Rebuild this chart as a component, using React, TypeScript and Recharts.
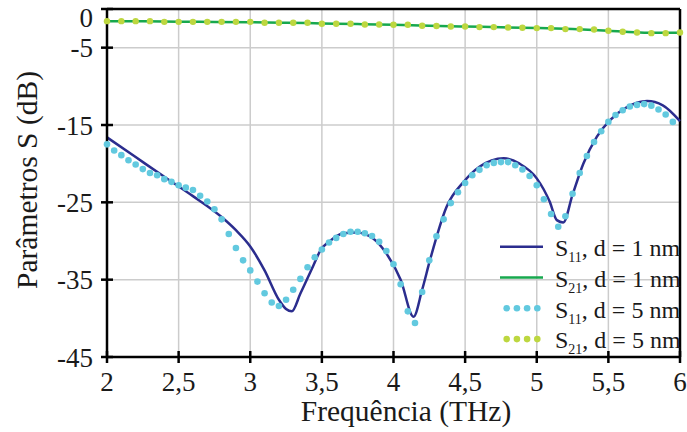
import { LineChart, Line, XAxis, YAxis, CartesianGrid, ReferenceLine } from "recharts";

// frequency ticks (THz) and dB ticks
const freqTicks = [2, 2.5, 3, 3.5, 4, 4.5, 5, 5.5, 6];
const dbTicks = [-45, -35, -25, -15, -5, 0];

// S11, d = 1 nm (solid navy)
const s11d1Freq = [2.0, 2.2, 2.4, 2.6, 2.8, 2.9, 3.0, 3.1, 3.2, 3.25, 3.29, 3.35, 3.44, 3.49, 3.55, 3.65, 3.74, 3.86, 3.95, 4.05, 4.14, 4.2, 4.255, 4.37, 4.49, 4.6, 4.77, 4.88, 5.0, 5.09, 5.14, 5.185, 5.25, 5.325, 5.42, 5.51, 5.63, 5.77, 5.88, 6.0];
const s11d1 = [-16.6, -19.15, -21.7, -24.2, -26.9, -28.6, -30.7, -33.8, -37.6, -38.8, -39.1, -36.8, -33.2, -31.2, -30.1, -29.0, -28.9, -29.7, -31.6, -35.0, -39.8, -36.3, -32.45, -25.6, -22.35, -20.4, -19.3, -20.0, -21.9, -24.9, -27.3, -27.6, -24.0, -20.0, -16.5, -14.4, -12.7, -11.9, -12.45, -14.5];

// S21, d = 1 nm (solid green)
const s21d1Freq = [2.0, 2.25, 2.5, 2.75, 3.0, 3.25, 3.5, 3.75, 4.0, 4.25, 4.5, 4.75, 5.0, 5.25, 5.5, 5.75, 6.0];
const s21d1 = [-1.57, -1.58, -1.64, -1.67, -1.7, -1.78, -1.86, -1.95, -2.04, -2.18, -2.27, -2.36, -2.46, -2.6, -2.8, -3.06, -3.07];

// S11, d = 5 nm (cyan dots)
const s11d5Freq = [2.0, 2.05, 2.1, 2.15, 2.2, 2.25, 2.3, 2.35, 2.4, 2.45, 2.5, 2.55, 2.6, 2.65, 2.7, 2.75, 2.8, 2.85, 2.9, 2.95, 3.0, 3.05, 3.1, 3.15, 3.2, 3.25, 3.3, 3.35, 3.4, 3.45, 3.5, 3.55, 3.6, 3.65, 3.7, 3.75, 3.8, 3.85, 3.9, 3.95, 4.0, 4.05, 4.1, 4.15, 4.2, 4.25, 4.3, 4.35, 4.4, 4.45, 4.5, 4.55, 4.6, 4.65, 4.7, 4.75, 4.8, 4.85, 4.9, 4.95, 5.0, 5.05, 5.1, 5.15, 5.2, 5.25, 5.3, 5.35, 5.4, 5.45, 5.5, 5.55, 5.6, 5.65, 5.7, 5.75, 5.8, 5.85, 5.9, 5.95];
const s11d5 = [-17.5, -18.3, -18.9, -19.55, -20.1, -20.7, -21.2, -21.5, -22.0, -22.35, -22.8, -23.1, -23.4, -24.15, -24.9, -25.9, -27.2, -29.1, -30.9, -32.5, -33.8, -35.25, -36.75, -37.95, -38.4, -37.6, -36.3, -34.9, -33.4, -32.1, -31.1, -30.2, -29.6, -29.1, -28.8, -28.8, -29.0, -29.35, -30.1, -31.3, -33.0, -35.6, -39.1, -40.6, -36.6, -32.5, -29.4, -27.2, -25.1, -23.7, -22.5, -21.5, -20.8, -20.2, -19.9, -19.8, -19.8, -20.2, -20.75, -21.6, -22.8, -24.6, -26.5, -28.15, -26.8, -23.9, -21.2, -19.0, -17.2, -15.8, -14.6, -13.7, -13.1, -12.6, -12.4, -12.3, -12.5, -13.0, -13.65, -14.6];

// S21, d = 5 nm (lime dots)
const s21d5Freq = [2.0, 2.1, 2.2, 2.3, 2.4, 2.5, 2.6, 2.7, 2.8, 2.9, 3.0, 3.1, 3.2, 3.3, 3.4, 3.5, 3.6, 3.7, 3.8, 3.9, 4.0, 4.1, 4.2, 4.3, 4.4, 4.5, 4.6, 4.7, 4.8, 4.9, 5.0, 5.1, 5.2, 5.3, 5.4, 5.5, 5.6, 5.7, 5.8, 5.9, 6.0];
const s21d5 = [-1.57, -1.57, -1.57, -1.57, -1.66, -1.66, -1.66, -1.66, -1.66, -1.66, -1.66, -1.78, -1.78, -1.78, -1.78, -1.91, -1.91, -1.91, -2.0, -2.0, -2.04, -2.04, -2.17, -2.2, -2.26, -2.26, -2.34, -2.34, -2.39, -2.43, -2.47, -2.47, -2.6, -2.6, -2.65, -2.82, -2.95, -3.03, -3.12, -3.12, -3.03];

// one table keyed by frequency, each series filled where it has a value
const buildTable = () => {
  const map = new Map<number, any>();
  const add = (fs: number[], vs: number[], key: string) =>
    fs.forEach((f, i) => {
      const k = Math.round(f * 1000) / 1000;
      if (!map.has(k)) map.set(k, { f: k });
      map.get(k)[key] = vs[i];
    });
  add(s11d1Freq, s11d1, "s11d1");
  add(s21d1Freq, s21d1, "s21d1");
  add(s11d5Freq, s11d5, "s11d5");
  add(s21d5Freq, s21d5, "s21d5");
  return [...map.values()].sort((a, b) => a.f - b.f);
};
const table = buildTable();

const NAVY = "#2b2d8e";
const GREEN = "#17a84e";
const CYAN = "#62c9df";
const LIME = "#bdd740";
const GRID = "#cccccc";
const FONT = "Liberation Serif";
const INK = "#1a1a1a";

const XTick = ({ x, y, payload }: any) => (
  <g>
    <line x1={x} x2={x} y1={y - 6} y2={y + 6} stroke="#000" strokeWidth={2.5} />
    <text x={x} y={y + 34} textAnchor="middle" fontSize={27} fontFamily={FONT} fill={INK}>
      {String(payload.value).replace(".", ",")}
    </text>
  </g>
);

const YTick = ({ x, y, payload }: any) => (
  <g>
    <line x1={x - 6} x2={x + 6} y1={y} y2={y} stroke="#000" strokeWidth={2.5} />
    <text x={x - 14} y={y + (payload.value === 0 ? 18 : 9.5)} textAnchor="end" fontSize={27} fontFamily={FONT} fill={INK}>
      {payload.value}
    </text>
  </g>
);

const legendRows = [
  { kind: "line", color: NAVY, sub: "11", text: ", d = 1 nm" },
  { kind: "line", color: GREEN, sub: "21", text: ", d = 1 nm" },
  { kind: "dots", color: CYAN, sub: "11", text: ", d = 5 nm" },
  { kind: "dots", color: LIME, sub: "21", text: ", d = 5 nm" },
];

export default function App() {
  return (
    <div style={{ position: "absolute", left: 0, top: 0, width: 687, height: 432, background: "#fff" }}>
      <LineChart width={687} height={432} data={table} margin={{ top: 9, right: 7, left: 0, bottom: 0 }}>
        <CartesianGrid stroke={GRID} strokeWidth={1.5} />
        <XAxis
          dataKey="f"
          type="number"
          domain={[2, 6]}
          ticks={freqTicks}
          interval={0}
          height={75}
          tickSize={0}
          tickMargin={0}
          tickLine={false}
          axisLine={{ stroke: "#000", strokeWidth: 2.5 }}
          tick={(p: any) => <XTick {...p} />}
        />
        <YAxis
          type="number"
          domain={[-45, 0]}
          ticks={dbTicks}
          interval={0}
          width={107}
          tickSize={0}
          tickMargin={0}
          tickLine={false}
          axisLine={{ stroke: "#000", strokeWidth: 2.5 }}
          tick={(p: any) => <YTick {...p} />}
        />
        <ReferenceLine y={0} stroke="#000" strokeWidth={2.5} />
        <ReferenceLine x={6} stroke="#000" strokeWidth={2.5} />
        <Line dataKey="s11d1" type="monotone" connectNulls stroke={NAVY} strokeWidth={2.5} dot={false} isAnimationActive={false} />
        <Line dataKey="s21d1" type="monotone" connectNulls stroke={GREEN} strokeWidth={2.5} dot={false} isAnimationActive={false} />
        <Line dataKey="s11d5" stroke="none" dot={{ r: 3.3, fill: CYAN, stroke: "none" }} isAnimationActive={false} />
        <Line dataKey="s21d5" stroke="none" dot={{ r: 3.2, fill: LIME, stroke: "none" }} isAnimationActive={false} />
      </LineChart>

      {/* axis titles + legend drawn on top */}
      <svg width={687} height={432} style={{ position: "absolute", left: 0, top: 0, pointerEvents: "none" }}>
        <text transform="translate(37,180) rotate(-90)" textAnchor="middle" fontSize={29.5} fontFamily={FONT} fill={INK}>
          Parâmetros S (dB)
        </text>
        <text x={406} y={421} textAnchor="middle" fontSize={29.5} fontFamily={FONT} fill={INK}>
          Frequência (THz)
        </text>
        {legendRows.map((r, i) => {
          const cy = 246.7 + i * 30.8;
          return (
            <g key={i}>
              {r.kind === "line" ? (
                <line x1={500} x2={543} y1={cy} y2={cy} stroke={r.color} strokeWidth={2.5} />
              ) : (
                [506.7, 516.9, 527.1, 537.3].map((dx) => <circle key={dx} cx={dx} cy={cy} r={3.3} fill={r.color} />)
              )}
              <text x={555} y={cy + 9.3} fontSize={24} fontFamily={FONT} fill={INK}>
                S
                <tspan fontSize={14} dy={6}>{r.sub}</tspan>
                <tspan dy={-6}>{r.text}</tspan>
              </text>
            </g>
          );
        })}
      </svg>
    </div>
  );
}
